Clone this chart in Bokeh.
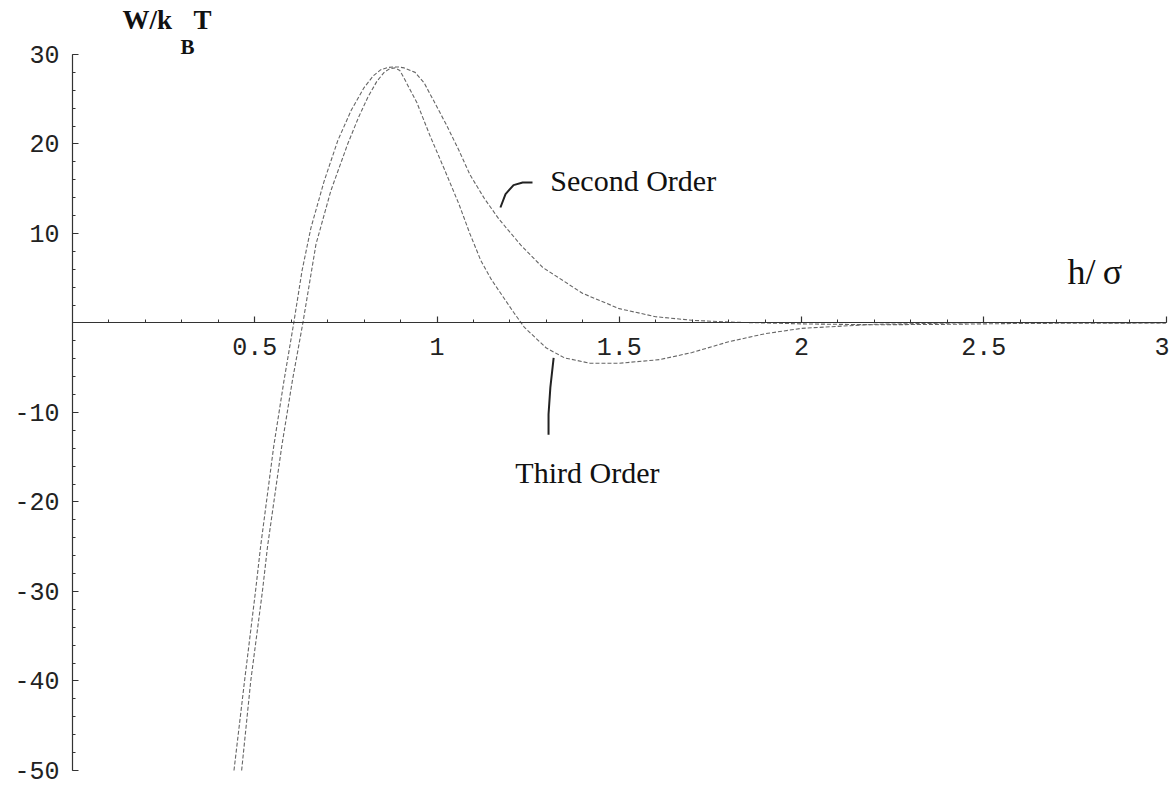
from bokeh.plotting import figure
from bokeh.models import LinearAxis, FixedTicker, Label, Range1d
from bokeh.embed import file_html
from bokeh.resources import INLINE

# Interaction free energy W/kBT against separation h/sigma
h_second = [0.443, 0.472, 0.502, 0.516, 0.552, 0.580, 0.607, 0.630, 0.654, 0.690,
            0.728, 0.765, 0.800, 0.825, 0.846, 0.865, 0.880, 0.895, 0.910, 0.940,
            0.965, 0.990, 1.025, 1.060, 1.090, 1.130, 1.170, 1.230, 1.290, 1.400,
            1.500, 1.600, 1.700, 1.800, 2.000, 2.200, 2.400, 2.600, 3.000]
w_second = [-50.0, -40.0, -30.0, -25.0, -13.8, -6.5, 0.0, 5.9, 10.6, 15.8,
            20.4, 23.8, 26.3, 27.6, 28.3, 28.55, 28.6, 28.6, 28.5, 28.0,
            26.8, 24.9, 22.2, 19.3, 16.6, 13.9, 11.6, 8.7, 6.2, 3.3,
            1.6, 0.7, 0.3, 0.1, -0.1, -0.2, -0.15, -0.05, 0.0]

h_third = [0.464, 0.489, 0.521, 0.535, 0.574, 0.603, 0.632, 0.668, 0.709, 0.755,
           0.785, 0.810, 0.835, 0.855, 0.870, 0.885, 0.898, 0.909, 0.945, 0.980,
           1.020, 1.060, 1.090, 1.120, 1.150, 1.180, 1.210, 1.240, 1.300, 1.350,
           1.420, 1.500, 1.610, 1.700, 1.800, 1.900, 2.000, 2.200, 2.500, 3.000]
w_third = [-50.0, -40.0, -30.0, -25.0, -13.8, -6.5, 0.0, 8.8, 14.8, 20.0,
           23.0, 25.2, 27.0, 28.0, 28.4, 28.5, 28.2, 27.4, 24.6, 21.0,
           17.2, 13.3, 10.0, 7.0, 4.8, 3.0, 1.2, -0.5, -2.8, -3.9,
           -4.5, -4.5, -4.1, -3.3, -2.1, -1.2, -0.6, -0.15, 0.05, 0.0]

x_ticks = [0.5, 1, 1.5, 2, 2.5, 3]
x_tick_labels = ["0.5", "1", "1.5", "2", "2.5", "3"]
x_minor = [round(0.1 * i, 1) for i in range(1, 31)]

y_ticks = [-50, -40, -30, -20, -10, 10, 20, 30]
y_tick_labels = ["-50", "-40", "-30", "-20", "-10", "10", "20", "30"]
y_minor = list(range(-50, 31, 2))

AXIS_COLOR = "#333333"
CURVE_COLOR = "#666666"
TEXT_COLOR = "#111111"

p = figure(width=1169, height=786,
           x_range=Range1d(0, 3.0096), y_range=Range1d(-51.79, 36.03),
           output_backend="svg", toolbar_location=None,
           x_axis_location=None, y_axis_location=None,
           min_border_left=72, min_border_right=0,
           min_border_top=0, min_border_bottom=0)
p.outline_line_color = None
p.background_fill_color = "white"
p.border_fill_color = "white"
for g in p.grid:
    g.visible = False


def style_axis(ax):
    ax.axis_line_color = AXIS_COLOR
    ax.axis_line_width = 1.2
    ax.major_tick_line_color = AXIS_COLOR
    ax.minor_tick_line_color = AXIS_COLOR
    ax.major_tick_line_width = 1.2
    ax.minor_tick_line_width = 1
    ax.major_tick_in = 6
    ax.major_tick_out = 0
    ax.minor_tick_in = 3
    ax.minor_tick_out = 0
    ax.major_label_text_font = "Liberation Mono"
    ax.major_label_text_font_size = "25px"
    ax.major_label_text_color = "#222222"


yaxis = LinearAxis(ticker=FixedTicker(ticks=y_ticks, minor_ticks=y_minor),
                   bounds=(-50, 30),
                   major_label_overrides=dict(zip(y_ticks, y_tick_labels)))
style_axis(yaxis)
yaxis.major_label_standoff = 13
p.add_layout(yaxis, "left")

xaxis = LinearAxis(ticker=FixedTicker(ticks=x_ticks, minor_ticks=x_minor),
                   bounds=(0, 3), fixed_location=0,
                   major_label_overrides=dict(zip(x_ticks, x_tick_labels)))
style_axis(xaxis)
xaxis.major_label_standoff = 15
p.add_layout(xaxis, "below")

# the two expansions
p.line(h_second, w_second, line_color=CURVE_COLOR, line_width=1.1, line_dash="4 2")
p.line(h_third, w_third, line_color=CURVE_COLOR, line_width=1.1, line_dash="4 2")

# pointers from the curve labels
p.line([1.174, 1.188, 1.210, 1.235, 1.262], [12.9, 14.4, 15.4, 15.7, 15.7],
       line_color="#222222", line_width=2)
p.line([1.320, 1.311, 1.306, 1.306], [-3.9, -7.2, -10.2, -12.5],
       line_color="#222222", line_width=2)

serif = "Liberation Serif"
p.add_layout(Label(x=0.137, y=33.8, text="W/k", text_font=serif, text_font_style="bold",
                   text_font_size="27px", text_baseline="alphabetic", text_color=TEXT_COLOR))
p.add_layout(Label(x=0.296, y=30.8, text="B", text_font=serif, text_font_style="bold",
                   text_font_size="21px", text_baseline="alphabetic", text_color=TEXT_COLOR))
p.add_layout(Label(x=0.332, y=33.8, text="T", text_font=serif, text_font_style="bold",
                   text_font_size="27px", text_baseline="alphabetic", text_color=TEXT_COLOR))
p.add_layout(Label(x=2.730, y=5.64, text="h/\u2009σ", text_font=serif,
                   text_font_size="36px", text_baseline="alphabetic", text_color=TEXT_COLOR))
p.add_layout(Label(x=1.311, y=15.92, text="Second Order", text_font=serif,
                   text_font_size="30px", text_baseline="alphabetic", text_color=TEXT_COLOR))
p.add_layout(Label(x=1.215, y=-16.7, text="Third Order", text_font=serif,
                   text_font_size="30px", text_baseline="alphabetic", text_color=TEXT_COLOR))

open("out.html", "w").write(file_html(p, INLINE))
